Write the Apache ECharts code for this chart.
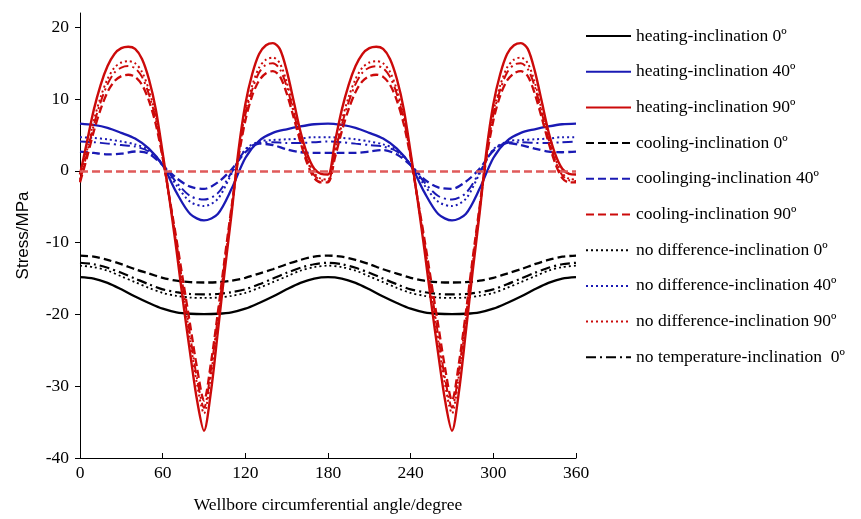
<!DOCTYPE html>
<html>
<head>
<meta charset="utf-8">
<script src="https://cdn.jsdelivr.net/npm/echarts@6/dist/echarts.min.js"></script>
<style>
  html, body { margin: 0; padding: 0; background: #fff; }
  #chart { width: 861px; height: 519px; }
</style>
</head>
<body>
<div id="chart"></div>
<script>
// Circumferential angle samples (degrees)
const angles10 = [0,10,20,30,40,50,60,70,80,90,100,110,120,130,140,150,160,170,180,
  190,200,210,220,230,240,250,260,270,280,290,300,310,320,330,340,350,360];
const angles5 = [0,5,10,15,20,25,30,35,40,45,50,55,60,65,70,75,80,85,90,95,100,105,110,115,120,125,130,135,140,145,150,155,160,165,170,175,180,
  185,190,195,200,205,210,215,220,225,230,235,240,245,250,255,260,265,270,275,280,285,290,295,300,305,310,315,320,325,330,335,340,345,350,355,360];

// Inclination 0° (MPa), sampled every 10°
const heating0 = [-14.8,-15.0,-15.6,-16.5,-17.5,-18.4,-19.2,-19.7,-19.9,-19.95,-19.9,-19.7,-19.2,-18.4,-17.5,-16.5,-15.6,-15.0,-14.8,
  -15.0,-15.6,-16.5,-17.5,-18.4,-19.2,-19.7,-19.9,-19.95,-19.9,-19.7,-19.2,-18.4,-17.5,-16.5,-15.6,-15.0,-14.8];
const cooling0 = [-11.8,-11.95,-12.4,-13.0,-13.7,-14.3,-14.9,-15.3,-15.5,-15.55,-15.5,-15.3,-14.9,-14.3,-13.7,-13.0,-12.4,-11.95,-11.8,
  -11.95,-12.4,-13.0,-13.7,-14.3,-14.9,-15.3,-15.5,-15.55,-15.5,-15.3,-14.9,-14.3,-13.7,-13.0,-12.4,-11.95,-11.8];
const noDiff0 = [-13.2,-13.4,-13.9,-14.7,-15.5,-16.3,-17.0,-17.4,-17.65,-17.7,-17.65,-17.4,-17.0,-16.3,-15.5,-14.7,-13.9,-13.4,-13.2,
  -13.4,-13.9,-14.7,-15.5,-16.3,-17.0,-17.4,-17.65,-17.7,-17.65,-17.4,-17.0,-16.3,-15.5,-14.7,-13.9,-13.4,-13.2];
const noTemp0 = [-12.8,-13.0,-13.5,-14.2,-15.0,-15.8,-16.5,-16.9,-17.15,-17.2,-17.15,-16.9,-16.5,-15.8,-15.0,-14.2,-13.5,-13.0,-12.8,
  -13.0,-13.5,-14.2,-15.0,-15.8,-16.5,-16.9,-17.15,-17.2,-17.15,-16.9,-16.5,-15.8,-15.0,-14.2,-13.5,-13.0,-12.8];

// Inclination 40° (MPa), sampled every 10°
const heating40 = [6.6,6.4,6.0,5.3,4.5,3.1,0.8,-3.0,-6.0,-6.9,-6.0,-2.5,1.8,4.2,5.3,5.8,6.2,6.5,6.6,
  6.4,6.0,5.3,4.5,3.1,0.8,-3.0,-6.0,-6.9,-6.0,-2.5,1.8,4.2,5.3,5.8,6.2,6.5,6.6];
const cooling40 = [2.7,2.5,2.3,2.4,2.7,2.4,0.8,-1.0,-2.2,-2.5,-1.6,0.2,2.6,3.8,3.6,3.0,2.6,2.5,2.5,
  2.5,2.5,2.7,2.9,2.3,0.8,-1.2,-2.3,-2.5,-1.5,0.3,2.8,3.9,3.6,3.1,2.7,2.6,2.7];
const noDiff40 = [4.7,4.6,4.4,4.1,3.7,2.9,0.9,-2.0,-4.3,-4.9,-3.9,-0.4,3.0,4.1,4.3,4.4,4.5,4.7,4.7,
  4.6,4.4,4.1,3.7,2.9,0.9,-2.0,-4.3,-4.9,-3.9,-0.4,3.0,4.1,4.3,4.4,4.5,4.7,4.7];
const noTemp40 = [4.1,4.0,3.8,3.6,3.4,2.7,0.9,-1.6,-3.5,-4.0,-3.1,-0.2,2.9,3.9,4.0,3.9,3.9,4.0,4.1,
  4.0,3.8,3.6,3.4,2.7,0.9,-1.6,-3.5,-4.0,-3.1,-0.2,2.9,3.9,4.0,3.9,3.9,4.0,4.1];

// Inclination 90° (MPa), sampled every 5°
const heating90 = [-0.5,4.0,8.5,12.0,14.6,16.3,17.1,17.3,17.0,15.6,12.8,8.6,2.5,-4.0,-11.0,-18.5,-25.5,-32.0,-36.2,
  -30.8,-22.5,-14.0,-6.0,2.8,9.3,13.5,16.3,17.5,17.8,17.0,14.0,9.8,5.5,2.3,0.3,-0.4,-0.5,
  4.0,8.5,12.0,14.6,16.3,17.1,17.3,17.0,15.6,12.8,8.6,2.5,-4.0,-11.0,-18.5,-25.5,-32.0,-36.2,
  -30.8,-22.5,-14.0,-6.0,2.8,9.3,13.5,16.3,17.5,17.8,17.0,14.0,9.8,5.5,2.3,0.3,-0.4,-0.5];
const cooling90 = [-1.6,1.8,5.5,8.6,11.0,12.5,13.2,13.4,13.1,12.0,9.8,6.5,1.8,-3.8,-9.5,-15.5,-21.5,-27.5,-32.0,
  -26.8,-19.8,-12.2,-5.0,1.8,7.0,10.5,12.6,13.6,13.9,13.2,10.8,7.5,4.0,1.0,-1.0,-1.6,-1.6,
  1.8,5.5,8.6,11.0,12.5,13.2,13.4,13.1,12.0,9.8,6.5,1.8,-3.8,-9.5,-15.5,-21.5,-27.5,-32.0,
  -26.8,-19.8,-12.2,-5.0,1.8,7.0,10.5,12.6,13.6,13.9,13.2,10.8,7.5,4.0,1.0,-1.0,-1.6,-1.6];
const noDiff90 = [-1.2,2.8,7.0,10.3,12.8,14.4,15.1,15.3,15.0,13.8,11.3,7.6,2.2,-3.9,-10.3,-17.0,-23.7,-29.8,-33.8,
  -28.5,-21.0,-13.0,-5.5,2.3,8.2,11.9,14.4,15.5,15.8,15.0,12.4,8.6,4.8,1.7,-0.3,-1.1,-1.2,
  2.8,7.0,10.3,12.8,14.4,15.1,15.3,15.0,13.8,11.3,7.6,2.2,-3.9,-10.3,-17.0,-23.7,-29.8,-33.8,
  -28.5,-21.0,-13.0,-5.5,2.3,8.2,11.9,14.4,15.5,15.8,15.0,12.4,8.6,4.8,1.7,-0.3,-1.1,-1.2];
const noTemp90 = [-1.4,2.4,6.4,9.6,12.1,13.7,14.4,14.6,14.3,13.1,10.7,7.2,2.0,-3.9,-10.0,-16.5,-23.0,-29.0,-33.0,
  -27.8,-20.5,-12.7,-5.3,2.1,7.8,11.3,13.7,14.8,15.0,14.2,11.8,8.2,4.5,1.4,-0.6,-1.3,-1.4,
  2.4,6.4,9.6,12.1,13.7,14.4,14.6,14.3,13.1,10.7,7.2,2.0,-3.9,-10.0,-16.5,-23.0,-29.0,-33.0,
  -27.8,-20.5,-12.7,-5.3,2.1,7.8,11.3,13.7,14.8,15.0,14.2,11.8,8.2,4.5,1.4,-0.6,-1.3,-1.4];

// Axis ticks
const xTicks = [0, 60, 120, 180, 240, 300, 360];
const yTicks = [-40, -30, -20, -10, 0, 10, 20];

const BLACK = '#000000';
const BLUE = '#1a1ab4';
const RED = '#cc0a0a';
const SOLID = 'solid';
const DASHED = [8, 4];
const DOTTED = [2, 3];
const DASHDOT = [10, 4, 2, 4];

function pairs(xs, ys) {
  return xs.map((x, i) => [x, ys[i]]);
}

function curve(name, xs, ys, color, type, width) {
  return {
    name: name,
    type: 'line',
    data: pairs(xs, ys),
    symbol: 'none',
    smooth: 0.3,
    lineStyle: { color: color, width: width || 2, type: type },
    itemStyle: { color: color },
    emphasis: { disabled: true },
    animation: false
  };
}

const legendNames = [
  'heating-inclination 0º',
  'heating-inclination 40º',
  'heating-inclination 90º',
  'cooling-inclination 0º',
  'coolinging-inclination 40º',
  'cooling-inclination 90º',
  'no difference-inclination 0º',
  'no difference-inclination 40º',
  'no difference-inclination 90º',
  'no temperature-inclination  0º'
];

const series = [
  curve(legendNames[0], angles10, heating0, BLACK, SOLID, 2.3),
  curve(legendNames[3], angles10, cooling0, BLACK, DASHED, 2.3),
  curve(legendNames[6], angles10, noDiff0, BLACK, DOTTED, 1.8),
  curve(legendNames[9], angles10, noTemp0, BLACK, DASHDOT, 2.2),
  curve(legendNames[1], angles10, heating40, BLUE, SOLID, 2.3),
  curve(legendNames[4], angles10, cooling40, BLUE, DASHED, 2.3),
  curve(legendNames[7], angles10, noDiff40, BLUE, DOTTED, 2),
  curve('no temperature-inclination 40º', angles10, noTemp40, BLUE, DASHDOT, 2),
  curve(legendNames[2], angles5, heating90, RED, SOLID, 2.4),
  curve(legendNames[5], angles5, cooling90, RED, DASHED, 2.3),
  curve(legendNames[8], angles5, noDiff90, RED, DOTTED, 2),
  curve('no temperature-inclination 90º', angles5, noTemp90, RED, DASHDOT, 2)
];

// zero reference line
series[9].markLine = {
  silent: true,
  symbol: 'none',
  label: { show: false },
  lineStyle: { color: '#e05a5a', width: 2.5, type: [8, 4] },
  data: [{ yAxis: 0 }],
  animation: false
};

const serif = 'Liberation Serif';

const chart = echarts.init(document.getElementById('chart'), null, { renderer: 'canvas' });
chart.setOption({
  backgroundColor: '#ffffff',
  animation: false,
  grid: { left: 80, right: 285, top: 13, bottom: 60, containLabel: false },
  legend: {
    data: legendNames,
    orient: 'vertical',
    left: 580,
    top: 22,
    itemWidth: 45,
    itemHeight: 16,
    itemGap: 17.7,
    itemStyle: { opacity: 0 },
    textStyle: { fontFamily: serif, fontSize: 17.5, color: '#000' },
    selectedMode: false
  },
  xAxis: {
    type: 'value',
    min: 0,
    max: 360,
    interval: 60,
    name: 'Wellbore circumferential angle/degree',
    nameLocation: 'middle',
    nameGap: 38,
    nameTextStyle: { fontFamily: serif, fontSize: 17.5, color: '#000' },
    axisLine: { show: true, onZero: false, lineStyle: { color: '#000', width: 1 } },
    axisTick: { show: true, inside: true, length: 5, lineStyle: { color: '#000' }, customValues: xTicks },
    axisLabel: { fontFamily: serif, fontSize: 17.5, color: '#000', margin: 6, customValues: xTicks },
    splitLine: { show: false }
  },
  yAxis: {
    type: 'value',
    min: -40,
    max: 22,
    interval: 10,
    name: 'Stress/MPa',
    nameLocation: 'middle',
    nameGap: 48,
    nameTextStyle: { fontFamily: 'Liberation Sans', fontSize: 17, color: '#000' },
    axisLine: { show: true, onZero: false, lineStyle: { color: '#000', width: 1 } },
    axisTick: { show: true, inside: false, length: 5, lineStyle: { color: '#000' }, customValues: yTicks },
    axisLabel: { fontFamily: serif, fontSize: 17.5, color: '#000', margin: 11, customValues: yTicks },
    splitLine: { show: false }
  },
  series: series
});
</script>
</body>
</html>
